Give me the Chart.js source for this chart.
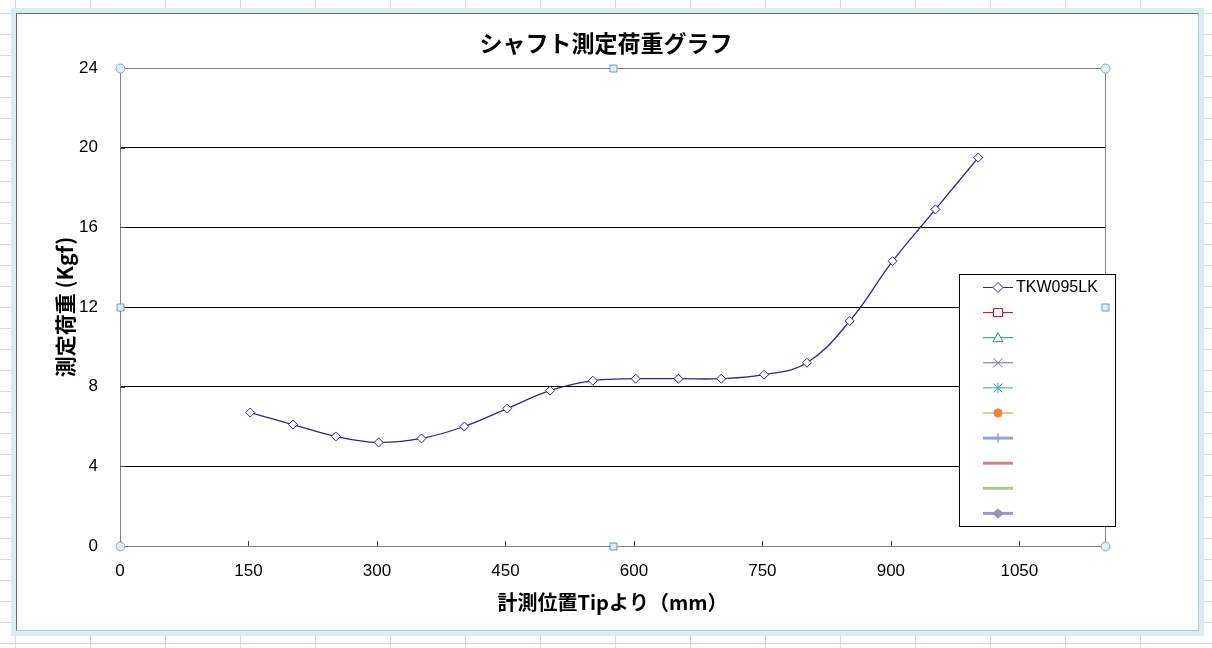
<!DOCTYPE html>
<html><head><meta charset="utf-8">
<script src="https://cdn.jsdelivr.net/npm/chart.js@4.4.1/dist/chart.umd.min.js"></script>
<style>
html,body{margin:0;padding:0;width:1212px;height:648px;overflow:hidden;}
body{background-color:#fff;
background-image:linear-gradient(to right,#d3dae5 1px,transparent 1px),linear-gradient(to bottom,#d3dae5 1px,transparent 1px);
background-size:75px 21px;background-position:15px 13px;}
#frame{position:absolute;left:11px;top:8px;width:1193px;height:628px;box-sizing:border-box;border:5px solid #d9ecf0;background:#fff;}
#inner{position:absolute;left:0;top:0;right:0;bottom:0;border:1px solid #6e6e6e;border-right-color:#b8c8cc;border-bottom-color:#b8c8cc;}
canvas{position:absolute;left:0;top:0;}
</style></head>
<body>
<div id="frame"><div id="inner"></div></div>
<canvas id="c" width="1212" height="648"></canvas>
<script>
// ---- data ----
const TITLE = 'シャフト測定荷重グラフ';
const X_TITLE = '計測位置Tipより（mm）';
const Y_TITLE = '測定荷重 (Kgf)';
const SERIES_NAME = 'TKW095LK';
const X_POS = [152, 202, 252, 302, 352, 402, 452, 502, 552, 602, 652, 702, 752, 802, 852, 902, 952, 1002];
const LOADS = [6.7, 6.1, 5.5, 5.2, 5.4, 6.0, 6.9, 7.8, 8.3, 8.4, 8.4, 8.4, 8.6, 9.2, 11.3, 14.3, 16.9, 19.5];
const X_TICKS = [0, 150, 300, 450, 600, 750, 900, 1050];
const Y_TICKS = [0, 4, 8, 12, 16, 20, 24];
const X_MAX = 1150;
const Y_MAX = 24;

const points = X_POS.map((x, i) => ({x: x, y: LOADS[i]}));

function drawMarker(ctx, kind, x, y, color) {
  ctx.save();
  ctx.strokeStyle = color; ctx.fillStyle = '#fff'; ctx.lineWidth = 1;
  ctx.beginPath();
  if (kind === 'diamond') {
    ctx.moveTo(x, y - 5); ctx.lineTo(x + 5, y); ctx.lineTo(x, y + 5); ctx.lineTo(x - 5, y); ctx.closePath();
    ctx.fill(); ctx.stroke();
  } else if (kind === 'square') {
    ctx.rect(x - 4.5, y - 4, 9, 8); ctx.fill(); ctx.stroke();
  } else if (kind === 'triangle') {
    ctx.moveTo(x, y - 5); ctx.lineTo(x + 5, y + 4); ctx.lineTo(x - 5, y + 4); ctx.closePath(); ctx.fill(); ctx.stroke();
  } else if (kind === 'cross') {
    ctx.moveTo(x - 4.5, y - 4.5); ctx.lineTo(x + 4.5, y + 4.5); ctx.moveTo(x + 4.5, y - 4.5); ctx.lineTo(x - 4.5, y + 4.5); ctx.stroke();
  } else if (kind === 'star') {
    ctx.moveTo(x - 4.5, y - 4.5); ctx.lineTo(x + 4.5, y + 4.5); ctx.moveTo(x + 4.5, y - 4.5); ctx.lineTo(x - 4.5, y + 4.5);
    ctx.moveTo(x, y - 5); ctx.lineTo(x, y + 5); ctx.stroke();
  } else if (kind === 'dot') {
    ctx.fillStyle = color; ctx.arc(x, y, 4.5, 0, Math.PI * 2); ctx.fill();
  } else if (kind === 'vbar') {
    ctx.moveTo(x, y - 5); ctx.lineTo(x, y + 5); ctx.stroke();
  } else if (kind === 'diamondFilled') {
    ctx.fillStyle = color;
    ctx.moveTo(x, y - 5); ctx.lineTo(x + 6, y); ctx.lineTo(x, y + 5); ctx.lineTo(x - 6, y); ctx.closePath(); ctx.fill();
  }
  ctx.restore();
}

const frameDecor = {
  id: 'frameDecor',
  beforeDatasetsDraw(chart) {
    const {ctx, chartArea: a, scales: {x, y}} = chart;
    ctx.save();
    ctx.strokeStyle = '#808080'; ctx.lineWidth = 1;
    ctx.beginPath(); ctx.moveTo(Math.round(a.right) + 0.5, a.top); ctx.lineTo(Math.round(a.right) + 0.5, a.bottom); ctx.stroke();
    ctx.strokeStyle = '#404040';
    X_TICKS.forEach(v => { const px = Math.round(x.getPixelForValue(v)) + 0.5; ctx.beginPath(); ctx.moveTo(px, a.bottom); ctx.lineTo(px, a.bottom - 5); ctx.stroke(); });
    Y_TICKS.forEach(v => { const py = Math.round(y.getPixelForValue(v)) + 0.5; ctx.beginPath(); ctx.moveTo(a.left, py); ctx.lineTo(a.left + 5, py); ctx.stroke(); });
    ctx.restore();
  },
  afterDraw(chart) {
    const {ctx, chartArea: a} = chart;
    ctx.save();
    const lx = 959.5, ly = 274.5, lw = 156, lh = 252;
    ctx.fillStyle = '#fff'; ctx.fillRect(lx, ly, lw, lh);
    ctx.strokeStyle = '#000'; ctx.lineWidth = 1; ctx.strokeRect(lx, ly, lw, lh);
    chart.data.datasets.forEach((ds, i) => {
      const yy = 287.5 + i * 25.1;
      ctx.strokeStyle = ds.borderColor; ctx.lineWidth = ds.legendWidth || 1;
      ctx.beginPath(); ctx.moveTo(983, yy); ctx.lineTo(1013, yy); ctx.stroke();
      drawMarker(ctx, ds.legendMarker, 998, yy, ds.legendMarkerColor || ds.borderColor);
      if (ds.label) {
        ctx.fillStyle = '#000'; ctx.font = '16px "Liberation Sans", Arial, sans-serif';
        ctx.textBaseline = 'middle'; ctx.textAlign = 'left';
        ctx.fillText(ds.label, 1016, yy);
      }
    });
    const cx = [a.left, (a.left + a.right) / 2, a.right];
    const cy = [a.top, (a.top + a.bottom) / 2, a.bottom];
    for (let i = 0; i < 3; i++) for (let j = 0; j < 3; j++) {
      if (i === 1 && j === 1) continue;
      const px = Math.round(cx[i]) + 0.5, py = Math.round(cy[j]) + 0.5;
      ctx.beginPath();
      ctx.lineWidth = 1;
      if (i !== 1 && j !== 1) {
        ctx.fillStyle = '#e3eef2'; ctx.strokeStyle = '#8ea8b6';
        ctx.arc(px, py, 4.5, 0, Math.PI * 2);
      } else {
        ctx.fillStyle = '#e0edf4'; ctx.strokeStyle = '#6f9ab4';
        ctx.rect(px - 3.5, py - 3.5, 7, 7);
      }
      ctx.fill(); ctx.stroke();
    }
    ctx.restore();
  }
};

new Chart(document.getElementById('c'), {
  type: 'line',
  data: {
    datasets: [
      {label: SERIES_NAME, data: points, borderColor: '#2a2a80', borderWidth: 1.3, tension: 0.4,
       pointStyle: 'rectRot', pointRadius: 4.5, pointBackgroundColor: '#fff', pointBorderColor: '#2a2a80', pointBorderWidth: 1,
       legendMarker: 'diamond'},
      {label: '', data: [], borderColor: '#e00000', legendMarker: 'square'},
      {label: '', data: [], borderColor: '#1f9a60', legendMarker: 'triangle'},
      {label: '', data: [], borderColor: '#7a68a0', legendMarker: 'cross'},
      {label: '', data: [], borderColor: '#3f9aa8', legendMarker: 'star'},
      {label: '', data: [], borderColor: '#e8873c', legendMarker: 'dot'},
      {label: '', data: [], borderColor: '#95a6c6', legendWidth: 3, legendMarker: 'vbar', legendMarkerColor: '#7085b0'},
      {label: '', data: [], borderColor: '#c8868a', legendWidth: 3, legendMarker: 'none'},
      {label: '', data: [], borderColor: '#b2c894', legendWidth: 3, legendMarker: 'none'},
      {label: '', data: [], borderColor: '#a297bc', legendWidth: 3, legendMarker: 'diamondFilled', legendMarkerColor: '#9a8fb8'}
    ]
  },
  options: {
    responsive: false, animation: false, devicePixelRatio: 1,
    layout: {padding: 0},
    plugins: {
      legend: {display: false},
      tooltip: {enabled: false},
      title: {display: true, text: TITLE, color: '#000',
        font: {family: '"Noto Sans CJK JP", sans-serif', size: 23, weight: 'bold', lineHeight: 1.2},
        padding: {top: 29.5, bottom: 10.9}}
    },
    scales: {
      x: {type: 'linear', min: 0, max: X_MAX,
        afterBuildTicks: s => { s.ticks = X_TICKS.map(v => ({value: v})); },
        afterFit: s => { s.height = 102; },
        grid: {display: false, drawTicks: false},
        border: {display: true, color: '#808080'},
        ticks: {color: '#000', padding: 15, maxRotation: 0, autoSkip: false,
          callback: v => String(v),
          font: {family: '"Liberation Sans", Arial, sans-serif', size: 17}},
        title: {display: true, text: X_TITLE, color: '#000',
          font: {family: '"Noto Sans CJK JP", sans-serif', size: 20, weight: 'bold', lineHeight: 1.2},
          padding: {top: 0, bottom: 34}}
      },
      y: {type: 'linear', min: 0, max: Y_MAX,
        afterBuildTicks: s => { s.ticks = Y_TICKS.map(v => ({value: v})); },
        afterFit: s => { s.width = 120; },
        grid: {drawTicks: false, color: c => (c.tick && (c.tick.value === 0 || c.tick.value === Y_MAX)) ? '#808080' : '#000', lineWidth: 1},
        border: {display: true, color: '#808080'},
        ticks: {color: '#000', padding: 22, callback: v => String(v),
          font: {family: '"Liberation Sans", Arial, sans-serif', size: 17}},
        title: {display: true, text: Y_TITLE, color: '#000',
          font: {family: '"Noto Sans CJK JP", sans-serif', size: 21, weight: 'bold', lineHeight: 1.2},
          padding: {top: 52, bottom: 0}}
      },
      yRight: {type: 'linear', position: 'right', min: 0, max: Y_MAX, display: true,
        afterFit: s => { s.width = 107; },
        grid: {display: false, drawTicks: false},
        border: {display: false},
        ticks: {display: false}
      }
    }
  },
  plugins: [frameDecor]
});
</script>
</body></html>
